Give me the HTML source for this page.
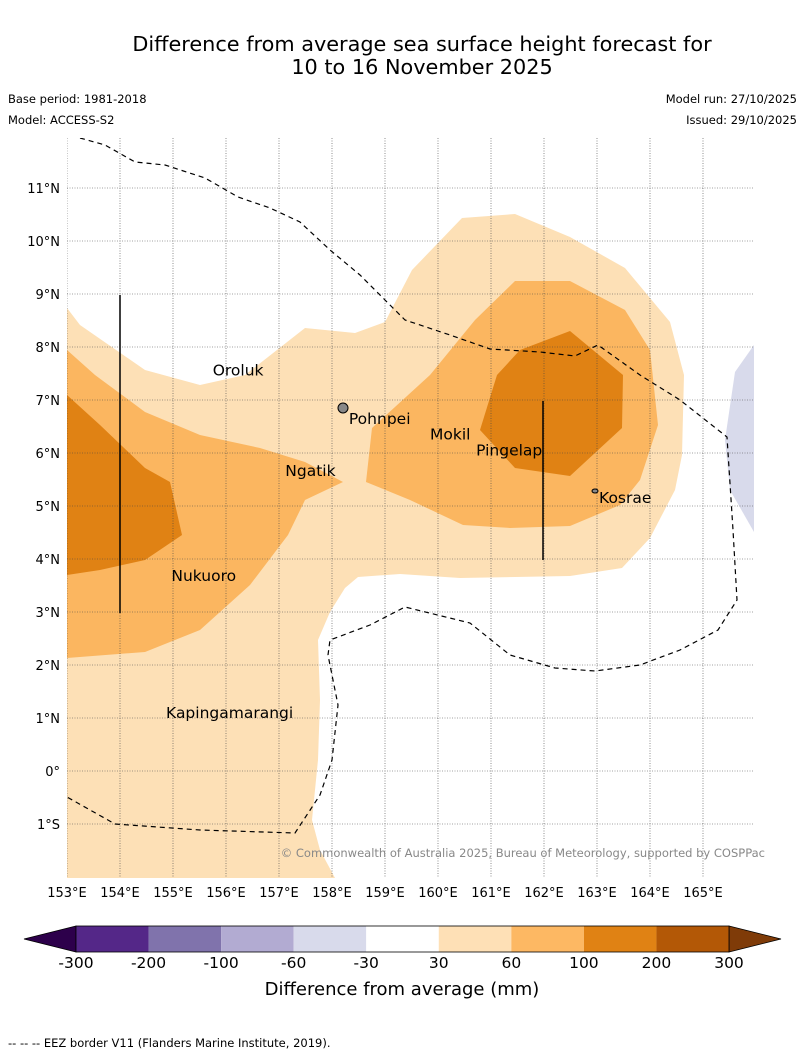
<!DOCTYPE html>
<html><head><meta charset="utf-8"><style>
body{margin:0;background:#fff;font-family:"Liberation Sans","DejaVu Sans",sans-serif}
svg{display:block}
</style></head><body>
<svg id="s" width="804" height="1058" xmlns="http://www.w3.org/2000/svg" font-family="DejaVu Sans, Liberation Sans, sans-serif">
<text x="422" y="51" text-anchor="middle" font-size="20.8">Difference from average sea surface height forecast for</text>
<text x="422" y="74" text-anchor="middle" font-size="20.8">10 to 16 November 2025</text>
<text x="8" y="103" font-size="11.5">Base period: 1981-2018</text>
<text x="8" y="124" font-size="11.5">Model: ACCESS-S2</text>
<text x="797" y="103" font-size="11.5" text-anchor="end">Model run: 27/10/2025</text>
<text x="797" y="124" font-size="11.5" text-anchor="end">Issued: 29/10/2025</text>
<defs><clipPath id="mc"><rect x="67" y="138" width="687" height="740"/></clipPath></defs>
<g clip-path="url(#mc)">
<polygon fill="#fde0b6" points="67,308 80,325 145,370 200,385 245,375 305,328 355,333 385,322 412,270 462,218 515,214 570,237 625,268 670,322 684,375 682,455 675,490 650,538 622,568 570,576 460,578 400,574 358,577 345,588 330,612 318,640 320,700 318,760 312,820 320,850 335,878 67,878"/>
<polygon fill="#fbb660" points="67,350 95,375 145,412 200,435 260,448 305,462 343,482 305,500 288,535 250,585 200,630 145,652 67,658"/>
<polygon fill="#fbb660" points="372,428 430,375 475,320 515,281 570,281 625,310 650,350 658,425 640,480 620,505 570,526 510,528 463,525 410,500 366,482"/>
<polygon fill="#e08214" points="67,395 100,425 145,468 170,482 182,535 145,560 100,570 67,575"/>
<polygon fill="#e08214" points="497,375 520,350 570,331 623,375 622,428 570,476 515,468 480,430"/>
<polygon fill="#d8daeb" points="754,345 735,372 725,440 730,490 754,532"/>
<g id="grid"></g>
<polyline fill="none" stroke="#000" stroke-width="1.2" stroke-dasharray="5,4" points="80,138 105,145 135,162 165,165 205,178 238,197 270,208 300,222 330,250 360,275 385,300 405,320 450,335 490,349 540,352 575,356 598,345 640,375 680,400 727,437 733,530 737,600 718,630 680,650 640,665 595,671 555,668 510,655 470,623 405,607 370,625 330,640 328,655 338,705 332,760 320,795 295,833 200,830 115,824 67,797"/>
<line x1="120" y1="295" x2="120" y2="613" stroke="#000" stroke-width="1.5"/>
<line x1="543" y1="401" x2="543" y2="560" stroke="#000" stroke-width="1.5"/>
<ellipse cx="343" cy="408" rx="5" ry="5" fill="#888" stroke="#000" stroke-width="1"/>
<ellipse cx="595" cy="491" rx="3" ry="2" fill="#888" stroke="#000"/>
<g id="labels" font-size="15.5"></g>
</g>
<text x="765" y="857" text-anchor="end" font-size="11.5" fill="#888">© Commonwealth of Australia 2025, Bureau of Meteorology, supported by COSPPac</text>
<g id="ticks" font-size="13"></g>
<g id="cbar"></g>
<text x="402" y="995" text-anchor="middle" font-size="18">Difference from average (mm)</text>
<text x="8" y="1047" font-size="11.5">-- -- -- EEZ border V11 (Flanders Marine Institute, 2019).</text>
</svg>
<script>
const NS="http://www.w3.org/2000/svg";
const lonTicks=[153,154,155,156,157,158,159,160,161,162,163,164,165];
const latTicks=[11,10,9,8,7,6,5,4,3,2,1,0,-1];
const islandNames=["Oroluk","Pohnpei","Mokil","Pingelap","Ngatik","Kosrae","Nukuoro","Kapingamarangi"];
const islandLon=[155.73,158.3,159.83,160.7,157.1,163.02,154.95,154.85];
const islandLat=[7.58,6.66,6.37,6.07,5.68,5.17,3.7,1.11];
const cbLabels=["-300","-200","-100","-60","-30","30","60","100","200","300"];
const cbColors=["#542788","#8073ac","#b2abd2","#d8daeb","#ffffff","#fee0b6","#fdb863","#e08214","#b35806"];
const X=l=>67+(l-153)*53, Y=l=>771-l*53;
function mk(t,a,p){const e=document.createElementNS(NS,t);for(const k in a)e.setAttribute(k,a[k]);p.appendChild(e);return e;}
const g=document.getElementById('grid'),tk=document.getElementById('ticks'),lb=document.getElementById('labels'),cb=document.getElementById('cbar');
lonTicks.concat([166]).forEach(l=>{const e=mk('line',{x1:X(l),x2:X(l),y1:138,y2:878,stroke:'#444','stroke-width':0.6,'stroke-dasharray':'1,1.5'},g);

});
lonTicks.forEach(l=>{const t=mk('text',{x:X(l),y:897,'text-anchor':'middle'},tk);t.textContent=l+'°E';

});
latTicks.forEach(l=>{const e=mk('line',{x1:67,x2:754,y1:Y(l),y2:Y(l),stroke:'#444','stroke-width':0.6,'stroke-dasharray':'1,1.5'},g);


const t=mk('text',{x:60,y:Y(l)+5,'text-anchor':'end'},tk);t.textContent=l>0?l+'°N':l<0?(-l)+'°S':'0°';

});
islandNames.forEach((n,i)=>{const t=mk('text',{x:X(islandLon[i])+1,y:Y(islandLat[i])+6},lb);t.textContent=n;

});
const x0=76,w=(729-76)/9;
mk('polygon',{points:`24,939 ${x0},926 ${x0},952`,fill:'#2d004b',stroke:'#000','stroke-width':0.8},cb);
mk('polygon',{points:`729,926 781,939 729,952`,fill:'#7f3b08',stroke:'#000','stroke-width':0.8},cb);
cbColors.forEach((c,i)=>{const r=mk('rect',{x:x0+i*w,y:926,width:w,height:26,fill:c},cb);

});
mk('rect',{x:x0,y:926,width:729-x0,height:26,fill:'none',stroke:'#000','stroke-width':0.8},cb);
cbLabels.forEach((s,i)=>{const t=mk('text',{x:x0+i*w,y:968,'text-anchor':'middle','font-size':15.5},cb);t.textContent=s;

});
</script>
</body></html>
